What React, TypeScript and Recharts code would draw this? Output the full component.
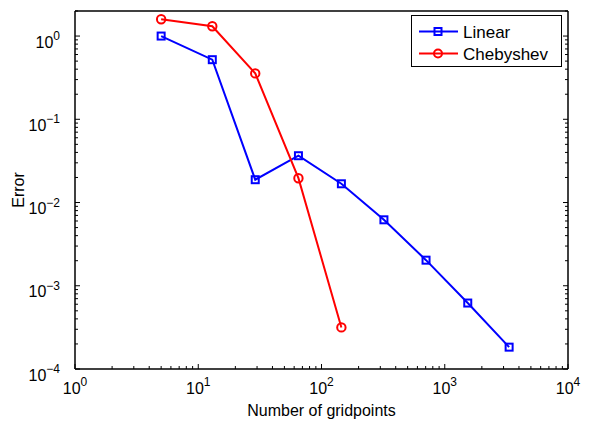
import React from 'react';
import { LineChart, Line, XAxis, YAxis } from 'recharts';

// grid sizes and errors
const linearN = [5, 13, 29, 65, 145, 321, 705, 1537, 3329];
const linearErr = [1.0, 0.52, 0.0188, 0.0365, 0.0168, 0.0062, 0.00203, 0.00062, 0.000183];
const chebN = [5, 13, 29, 65, 145];
const chebErr = [1.59, 1.31, 0.356, 0.0196, 0.000316];

const xMajor = [1, 10, 100, 1000, 10000];
const xMajorExp = ['0', '1', '2', '3', '4'];
const yMajor = [1e-4, 1e-3, 1e-2, 1e-1, 1];
const yMajorExp = ['\u22124', '\u22123', '\u22122', '\u22121', '0'];
const minorSteps = [1, 2, 3, 4, 5, 6, 7, 8, 9];

const X_MAX = 10000;
const Y_MIN = 1e-4;
const Y_MAX = 2;

const xTicks = xMajor.flatMap((m) => minorSteps.map((k) => k * m)).filter((v) => v <= X_MAX * 1.000001);
const yTicks = yMajor.flatMap((m) => minorSteps.map((k) => k * m)).filter((v) => v <= Y_MAX * 1.000001);

const linearData = linearN.map((n, i) => ({ n, err: linearErr[i] }));
const chebData = chebN.map((n, i) => ({ n, err: chebErr[i] }));

const FONT = '"Liberation Sans", Arial, Helvetica, sans-serif';
const BLUE = '#0000ff';
const RED = '#ff0000';
const MAJOR_LEN = 5;
const MINOR_LEN = 3;
const LW = 2;

const majorIndex = (v: number, majors: number[]) => majors.findIndex((m) => Math.abs(v / m - 1) < 1e-6);

const makeTick = (side: 'bottom' | 'top' | 'left' | 'right') => (props: any) => {
  const { x, y, payload } = props;
  const v = payload.value;
  const majors = side === 'bottom' || side === 'top' ? xMajor : yMajor;
  const idx = majorIndex(v, majors);
  const len = idx >= 0 ? MAJOR_LEN : MINOR_LEN;
  let line;
  if (side === 'bottom') line = <line x1={x} y1={y} x2={x} y2={y - len} stroke="#000" strokeWidth={1} />;
  else if (side === 'top') line = <line x1={x} y1={y} x2={x} y2={y + len} stroke="#000" strokeWidth={1} />;
  else if (side === 'left') line = <line x1={x} y1={y} x2={x + len} y2={y} stroke="#000" strokeWidth={1} />;
  else line = <line x1={x} y1={y} x2={x - len} y2={y} stroke="#000" strokeWidth={1} />;

  let label = null;
  if (idx >= 0 && side === 'bottom') {
    label = (
      <text x={x} y={y + 25} textAnchor="middle" fontFamily={FONT} fontSize={16} fill="#000">
        10<tspan dy={-7.6} fontSize={12}>{xMajorExp[idx]}</tspan>
      </text>
    );
  } else if (idx >= 0 && side === 'left') {
    label = (
      <text x={x - 15} y={y + 11.6} textAnchor="end" fontFamily={FONT} fontSize={16} fill="#000">
        10<tspan dy={-7.6} fontSize={12}>{yMajorExp[idx]}</tspan>
      </text>
    );
  }
  return (
    <g>
      {line}
      {label}
    </g>
  );
};

const squareDot = (p: any) => (
  <rect key={`sq-${p.index}`} x={p.cx - 3.5} y={p.cy - 3.5} width={7} height={7} fill="none" stroke={BLUE} strokeWidth={2} />
);
const circleDot = (p: any) => (
  <circle key={`ci-${p.index}`} cx={p.cx} cy={p.cy} r={4.2} fill="none" stroke={RED} strokeWidth={LW} />
);

const axisLine = { stroke: '#000', strokeWidth: 1.5 };

export default function App() {
  return (
    <div style={{ position: 'absolute', left: 0, top: 0, width: 591, height: 421, background: '#fff', fontFamily: FONT }}>
      <LineChart width={591} height={421} margin={{ top: 0, right: 0, bottom: 0, left: 0 }}>
        <XAxis
          dataKey="n"
          type="number"
          scale="log"
          domain={[1, X_MAX]}
          ticks={xTicks}
          interval={0}
          tickSize={0}
          tickMargin={0}
          tickLine={false}
          axisLine={axisLine}
          tick={makeTick('bottom')}
          height={52}
          allowDataOverflow
        />
        <XAxis
          xAxisId="top"
          orientation="top"
          type="number"
          scale="log"
          domain={[1, X_MAX]}
          ticks={xTicks}
          interval={0}
          tickSize={0}
          tickMargin={0}
          tickLine={false}
          axisLine={axisLine}
          tick={makeTick('top')}
          height={11}
          allowDataOverflow
        />
        <YAxis
          type="number"
          scale="log"
          domain={[Y_MIN, Y_MAX]}
          ticks={yTicks}
          interval={0}
          tickSize={0}
          tickMargin={0}
          tickLine={false}
          axisLine={axisLine}
          tick={makeTick('left')}
          width={75}
          allowDataOverflow
        />
        <YAxis
          yAxisId="right"
          orientation="right"
          type="number"
          scale="log"
          domain={[Y_MIN, Y_MAX]}
          ticks={yTicks}
          interval={0}
          tickSize={0}
          tickMargin={0}
          tickLine={false}
          axisLine={axisLine}
          tick={makeTick('right')}
          width={23}
          allowDataOverflow
        />
        <Line
          data={linearData}
          dataKey="err"
          name="Linear"
          stroke={BLUE}
          strokeWidth={LW}
          dot={squareDot}
          activeDot={false}
          isAnimationActive={false}
          type="linear"
        />
        <Line
          data={chebData}
          dataKey="err"
          name="Chebyshev"
          stroke={RED}
          strokeWidth={LW}
          dot={circleDot}
          activeDot={false}
          isAnimationActive={false}
          type="linear"
        />
      </LineChart>

      {/* axis titles and legend */}
      <div style={{ position: 'absolute', left: 0, top: 0, pointerEvents: 'none' }}>
        <svg width={591} height={421}>
          <text x={321.5} y={415.5} textAnchor="middle" fontFamily={FONT} fontSize={16} fill="#000">
            Number of gridpoints
          </text>
          <text
            x={24}
            y={190}
            textAnchor="middle"
            fontFamily={FONT}
            fontSize={16}
            fill="#000"
            transform="rotate(-90 24 190)"
          >
            Error
          </text>
          <rect x={411.5} y={15.5} width={150} height={51} fill="#fff" stroke="#000" strokeWidth={1} />
          <line x1={419} y1={31.5} x2={458} y2={31.5} stroke={BLUE} strokeWidth={LW} />
          <rect x={434.5} y={28} width={7} height={7} fill="none" stroke={BLUE} strokeWidth={2} />
          <text x={463} y={37.5} fontFamily={FONT} fontSize={17} fill="#000">Linear</text>
          <line x1={419} y1={53.5} x2={458} y2={53.5} stroke={RED} strokeWidth={LW} />
          <circle cx={438} cy={53.5} r={4} fill="none" stroke={RED} strokeWidth={LW} />
          <text x={463} y={59.5} fontFamily={FONT} fontSize={17} fill="#000">Chebyshev</text>
        </svg>
      </div>
    </div>
  );
}
